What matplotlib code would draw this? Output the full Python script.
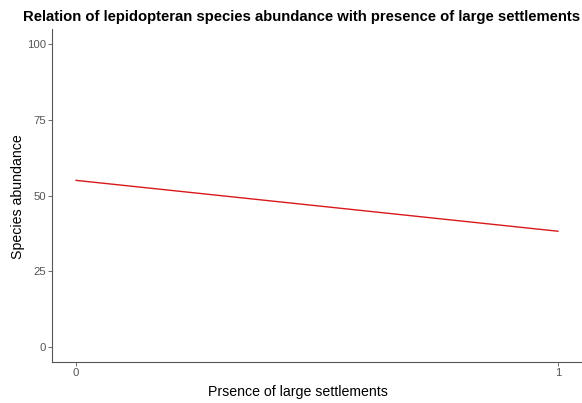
import matplotlib
matplotlib.use("Agg")
import matplotlib.pyplot as plt

plt.rcParams['font.family'] = ['Liberation Sans', 'DejaVu Sans']

x_vals = [0, 1]
y_vals = [55.0, 38.2]
x_ticks = [0, 1]
y_ticks = [0, 25, 50, 75, 100]

fig = plt.figure(figsize=(5.82, 4.03), dpi=100)
ax = fig.add_axes([52/582, 41/403, 530/582, 333/403])

ax.plot(x_vals, y_vals, color='#d7191c', linewidth=1.0)

ax.set_xlim(-0.05, 1.05)
ax.set_ylim(-5, 105)
ax.set_xticks(x_ticks)
ax.set_yticks(y_ticks)
ax.set_xticklabels([str(t) for t in x_ticks])
ax.set_yticklabels([str(t) for t in y_ticks])

for s in ['top', 'right']:
    ax.spines[s].set_visible(False)
for s in ['left', 'bottom']:
    ax.spines[s].set_color('#555555')
    ax.spines[s].set_linewidth(0.8)
ax.tick_params(axis='both', colors='#555555', labelcolor='#555555', labelsize=8.2,
               length=3, width=0.6, pad=1.5)

ax.set_xlabel('Prsence of large settlements', fontsize=10.2, ha='center', va='center')
ax.xaxis.set_label_coords((298 - 52) / 530, -(392 - 362) / 333)
ax.set_ylabel('Species abundance', fontsize=10.2, ha='center', va='center')
ax.yaxis.set_label_coords((18 - 52) / 530, (362 - 197) / 333)

fig.text(23/582, 0.958, 'Relation of lepidopteran species abundance with presence of large settlements',
         fontsize=10.7, fontweight='bold', ha='left', va='center')

fig.savefig('out.png', dpi=100, facecolor='white')
